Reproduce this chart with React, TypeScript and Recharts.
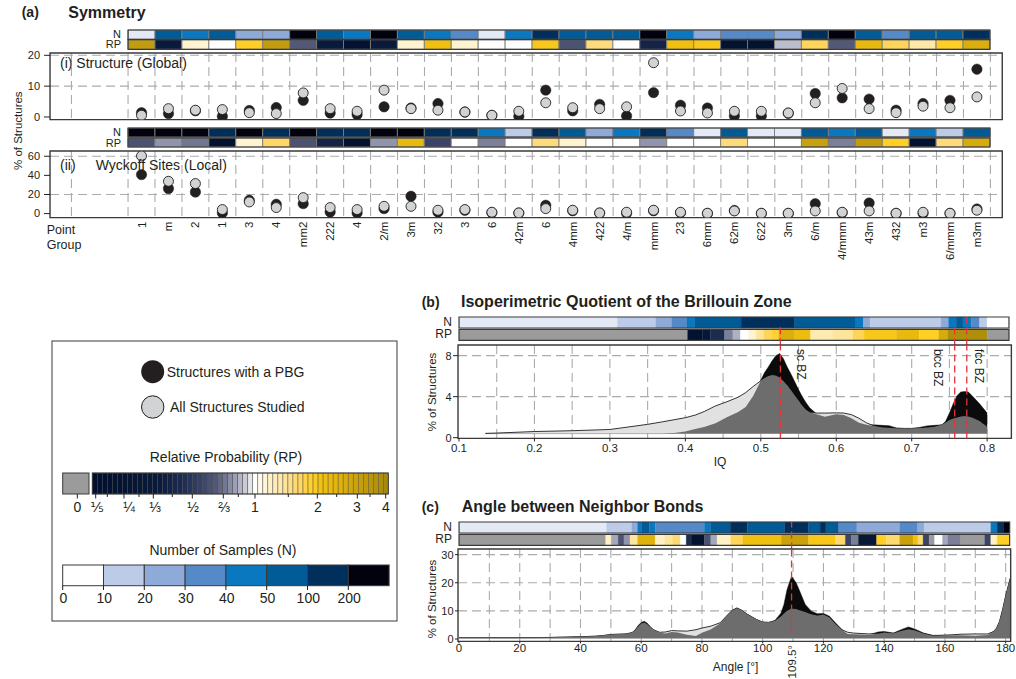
import React from "react";
import {
  ComposedChart,
  ScatterChart,
  Scatter,
  Area,
  XAxis,
  YAxis,
  ReferenceArea,
  ReferenceLine,
  CartesianGrid,
} from "recharts";

const FONT = "'Liberation Sans', Arial, Helvetica, 'DejaVu Sans', sans-serif";
const INK = "#231f20";
const GRID = "#a9abae";
const FRAME = "#3a3a3a";
const RED = "#e5333a";

// ---------- (a) Symmetry ----------
const pointGroups = [
  "1", "m", "2", "1", "3", "4", "mm2", "222", "4", "2/m", "3m", "32", "3", "6", "42m", "6",
  "4mm", "422", "4/m", "mmm", "23", "6mm", "62m", "622", "3m", "6/m", "4/mmm", "43m", "432", "m3", "6/mmm", "m3m",
];
// % of structures, global symmetry
const globalPbg = [1.4, 1.1, 2.0, 0.2, 2.1, 3.05, 5.4, 1.3, 0.8, 3.3, 2.9, 4.35, 1.6, 0.5, 0.2, 8.7, 2.0, 4.1, 0.35, 7.9, 3.8, 2.9, 0.35, 0.35, 1.2, 7.6, 6.2, 5.8, 2.2, 4.35, 5.4, 15.5];
const globalAll = [0.55, 2.7, 2.2, 2.4, 1.4, 1.1, 7.8, 2.7, 1.85, 8.7, 2.7, 2.2, 1.6, 0.55, 1.85, 4.6, 3.0, 2.7, 3.3, 17.6, 1.95, 1.3, 1.85, 1.85, 1.3, 4.6, 9.25, 2.7, 1.4, 3.5, 3.0, 6.5];
const globalN = [5, 70, 45, 70, 25, 25, 250, 70, 45, 250, 70, 45, 35, 5, 45, 150, 70, 70, 70, 250, 45, 25, 35, 35, 25, 150, 250, 70, 35, 70, 70, 150];
const globalRP = [3.2, 0.35, 1.15, 1.0, 1.9, 3.2, 0.62, 0.35, 0.22, 0.35, 1.15, 2.1, 1.15, 1.0, 1.0, 2.0, 0.6, 1.55, 1.0, 0.4, 2.1, 2.0, 0.22, 0.22, 0.85, 1.7, 0.62, 2.3, 1.7, 1.35, 1.9, 2.6];
// % of structures, Wyckoff site symmetry
const localPbg = [40.8, 26.2, 22.6, 0.7, 13.9, 9.7, 10.4, 1.7, 0.7, 5.2, 18.1, 1.5, 3.5, 1.0, 0.5, 8.7, 3.0, 0.5, 0.3, 3.0, 1.0, 0.2, 3.2, 0.2, 0.2, 10.4, 1.0, 11.1, 0.2, 0.3, 0.2, 4.8];
const localAll = [60.3, 33.8, 31.4, 4.2, 12.2, 6.3, 16.7, 6.3, 4.2, 7.6, 7.6, 3.5, 4.2, 1.4, 0.7, 5.2, 3.5, 0.7, 1.4, 3.5, 1.4, 0.3, 2.8, 0.3, 0.3, 2.8, 1.4, 2.8, 0.3, 1.4, 0.3, 3.5];
const localN = [250, 250, 250, 150, 250, 150, 250, 150, 150, 250, 250, 150, 150, 45, 15, 150, 70, 25, 45, 150, 35, 5, 70, 5, 5, 70, 45, 70, 5, 45, 15, 70];
const localRP = [0.6, 0.75, 0.68, 0.22, 1.15, 1.65, 0.6, 0.4, 0.22, 0.75, 2.3, 0.55, 1.0, 0.7, 1.0, 1.55, 1.15, 1.0, 1.0, 0.75, 1.0, 1.0, 1.55, 1.0, 1.0, 3.0, 0.7, 3.2, 1.9, 0.22, 1.55, 2.7];

// ---------- (b) Isoperimetric quotient ----------
const iqValues = [0.135, 0.15, 0.2, 0.25, 0.3, 0.32, 0.35, 0.37, 0.385, 0.4, 0.413, 0.425, 0.44, 0.455, 0.47, 0.48, 0.49, 0.5, 0.505, 0.51, 0.515, 0.52, 0.525, 0.53, 0.535, 0.54, 0.545, 0.55, 0.555, 0.56, 0.565, 0.575, 0.585, 0.6, 0.61, 0.62, 0.63, 0.64, 0.65, 0.66, 0.67, 0.68, 0.69, 0.7, 0.71, 0.72, 0.73, 0.74, 0.745, 0.75, 0.755, 0.76, 0.765, 0.77, 0.775, 0.78, 0.79, 0.8];
const iqAll = [0.42, 0.45, 0.6, 0.68, 0.8, 1.0, 1.3, 1.55, 1.75, 1.95, 2.2, 2.55, 3.1, 3.5, 3.95, 4.4, 5.0, 5.55, 5.8, 6.0, 6.1, 6.05, 5.85, 5.5, 5.1, 4.6, 4.1, 3.6, 3.1, 2.7, 2.45, 2.4, 2.4, 2.42, 2.4, 2.25, 1.9, 1.45, 1.15, 1.0, 0.95, 0.9, 0.9, 0.9, 0.92, 0.98, 1.05, 1.25, 1.45, 1.7, 1.85, 1.95, 2.05, 2.1, 2.05, 1.95, 1.6, 1.05];
const iqPbg = [0.4, 0.4, 0.4, 0.4, 0.4, 0.4, 0.4, 0.4, 0.45, 0.6, 0.85, 1.05, 1.4, 2.0, 2.5, 3.0, 4.1, 5.6, 6.35, 6.9, 7.5, 8.0, 8.2, 7.7, 6.9, 6.2, 5.45, 4.7, 4.0, 3.4, 2.9, 2.25, 2.05, 2.28, 2.2, 1.9, 1.45, 1.25, 1.25, 1.2, 1.17, 0.95, 0.9, 0.9, 1.0, 1.15, 1.2, 1.25, 1.6, 2.4, 3.3, 4.1, 4.45, 4.5, 4.45, 4.1, 3.3, 2.4];
const iqNEdges = [0.1, 0.31, 0.361, 0.382, 0.402, 0.4126, 0.474, 0.545, 0.626, 0.636, 0.645, 0.739, 0.749, 0.759, 0.768, 0.779, 0.79, 0.8, 0.829];
const iqN = [5, 15, 25, 35, 45, 70, 150, 70, 45, 25, 15, 25, 45, 70, 45, 35, 15, 0];
const iqRPEdges = [0.1, 0.403, 0.423, 0.433, 0.452, 0.463, 0.473, 0.484, 0.494, 0.504, 0.514, 0.524, 0.545, 0.566, 0.596, 0.622, 0.637, 0.68, 0.71, 0.736, 0.748, 0.8, 0.829];
const iqRP = [0, 0.22, 0.3, 0.45, 0.7, 0.82, 1.0, 1.15, 1.4, 1.7, 1.85, 2.6, 2.2, 1.3, 1.4, 1.7, 2.0, 2.3, 1.9, 2.7, 3.8, 0];
const bzMarks = [
  { name: "sc BZ", iq: 0.526, stripTop: 19 },
  { name: "bcc BZ", iq: 0.757, stripTop: 20 },
  { name: "fcc BZ", iq: 0.773, stripTop: 28.3 },
];

// ---------- (c) Angle between neighbor bonds ----------
const angles = [0, 10, 20, 30, 40, 45, 48, 50, 55, 57, 58, 59, 60, 61, 62, 63, 64, 66, 68, 70, 72, 75, 78, 80, 83, 86, 88, 90, 91.5, 93, 95, 98, 100, 102, 104, 106, 107, 108, 109.5, 111, 112, 114, 116, 118, 120, 122, 124, 126, 128, 130, 135, 138, 140, 143, 146, 148, 150, 153, 156, 160, 165, 170, 174, 176, 177, 178, 179, 180, 181, 181.6];
const angleAll = [0.5, 0.5, 0.5, 0.55, 0.8, 1.0, 1.3, 1.6, 1.8, 2.3, 3.2, 4.4, 5.4, 5.8, 5.2, 4.2, 3.3, 2.4, 2.5, 3.0, 2.9, 2.8, 3.3, 3.9, 4.6, 5.8, 8.0, 10.1, 10.9, 10.2, 8.7, 6.9, 6.0, 5.9, 6.4, 7.9, 9.0, 10.0, 10.8, 10.6, 10.2, 9.5, 8.7, 8.3, 8.6, 7.6, 5.2, 3.3, 2.4, 2.1, 1.8, 1.9, 2.2, 2.0, 2.9, 3.4, 3.0, 1.9, 1.2, 1.3, 1.7, 1.8, 1.8, 2.6, 3.8, 6.2, 10.4, 15.2, 19.4, 21.8];
const anglePbg = [0.5, 0.5, 0.5, 0.55, 0.8, 1.0, 1.3, 1.6, 1.8, 2.2, 3.3, 4.8, 5.9, 6.3, 5.6, 4.4, 3.3, 2.2, 2.0, 2.5, 2.3, 1.5, 1.1, 2.2, 3.5, 5.6, 8.1, 10.3, 11.1, 10.3, 8.8, 6.9, 6.0, 5.9, 6.6, 9.2, 12.3, 17.5, 22.3, 20.0, 17.5, 12.3, 9.9, 9.0, 9.1, 8.1, 5.7, 3.5, 1.8, 1.7, 1.5, 2.5, 2.7, 2.1, 3.5, 4.3, 3.6, 2.1, 1.3, 1.4, 1.3, 1.2, 1.4, 2.7, 3.9, 6.3, 10.5, 15.3, 19.5, 21.9];
const angleNEdges = [0, 48.6, 56.9, 58.8, 60.1, 62.7, 64.6, 80.8, 82.9, 89.3, 94.9, 107.2, 115.1, 118.9, 120.8, 125, 131, 145.2, 151, 153.1, 175.1, 177.2, 179.4, 181.3];
const angleN = [5, 15, 25, 45, 70, 45, 35, 45, 70, 150, 70, 150, 70, 150, 70, 35, 25, 35, 25, 15, 45, 150, 250];
const angleRPEdges = [0, 48.3, 50.1, 52.4, 54.3, 56.3, 58.8, 64.6, 67.8, 70.3, 72.9, 74.8, 76.7, 80.8, 82.9, 85, 89.5, 93.4, 106.1, 115.1, 124, 127.2, 129.2, 131.5, 137.5, 140.7, 145.1, 149.5, 151.1, 152.8, 154.8, 156.6, 159.2, 161, 165.2, 173.1, 175.1, 177.2, 181.3];
const angleRP = [0, 1.2, 0.8, 0.6, 0.75, 1.4, 2.5, 1.2, 1.4, 1.6, 1.0, 0.45, 0.22, 0.6, 0.8, 1.2, 1.7, 2.1, 3.0, 2.0, 1.6, 0.55, 0.7, 0.3, 1.9, 1.6, 3.0, 2.1, 1.6, 0.55, 0, 1.0, 0.8, 0.7, 0, 0.55, 1.2, 1.9];
const tetraAngle = 109.5;

// ---------- colour scales ----------
const nLegend = [
  { label: "0", color: "#ffffff" },
  { label: "10", color: "#bccbe8" },
  { label: "20", color: "#8eaad8" },
  { label: "30", color: "#5589c8" },
  { label: "40", color: "#0a78c0" },
  { label: "50", color: "#005b97" },
  { label: "100", color: "#002f5b" },
  { label: "200", color: "#02020f" },
];
const nBreaks = [10, 20, 30, 40, 50, 100, 200];

function nColor(n: number) {
  if (n <= 0) return "#ffffff";
  if (n < 10) return "#e3e9f5";
  const k = nBreaks.filter((b) => n >= b).length;
  return nLegend[k].color;
}

const rpStops: [number, string][] = [
  [0.2, "#00102e"], [0.35, "#0a1a3a"], [0.45, "#1c2b50"], [0.55, "#3a4468"], [0.62, "#535876"],
  [0.7, "#7b7f9a"], [0.8, "#a5a8bc"], [0.9, "#d0d1dc"], [1, "#ffffff"], [1.15, "#fff3d0"],
  [1.35, "#fee8a8"], [1.55, "#fedb7a"], [1.7, "#fed55a"], [1.9, "#ffcf25"], [2.1, "#f0c010"],
  [2.5, "#e0b20c"], [3, "#c9a10c"], [4, "#a88a0a"],
];
const hexRgb = (c: string) => [1, 3, 5].map((i) => parseInt(c.slice(i, i + 2), 16));

function rpColor(v: number) {
  if (v <= 0) return "#9b9b9b";
  const lv = Math.log(Math.min(Math.max(v, 0.2), 4));
  for (let i = 0; i < rpStops.length - 1; i++) {
    const [a, ca] = rpStops[i];
    const [b, cb] = rpStops[i + 1];
    if (lv <= Math.log(b) + 1e-9) {
      const t = (lv - Math.log(a)) / (Math.log(b) - Math.log(a));
      const A = hexRgb(ca);
      const B = hexRgb(cb);
      return `rgb(${A.map((x, k) => Math.round(x + (B[k] - x) * t)).join(",")})`;
    }
  }
  return rpStops[rpStops.length - 1][1];
}

const segments = (edges: number[], vals: number[], color: (v: number) => string) =>
  vals.map((v, i) => ({ x1: edges[i], x2: edges[i + 1], fill: color(v) }));
const perCategory = (vals: number[], color: (v: number) => string) =>
  vals.map((v, i) => ({ x1: i - 0.5, x2: i + 0.5, fill: color(v) }));

const catDomain = [-3.395, 31.94];
const catTicks = pointGroups.map((_, i) => i);
const catEdges = [-2.6, ...pointGroups.map((_, i) => i - 0.5), pointGroups.length - 0.5];

// ---------- pieces ----------
function HeatStrip({ left, top, width, height, domain, rows, cellStroke, children }: any) {
  const pad = 2;
  return (
    <div style={{ position: "absolute", left: left - pad, top: top - pad }}>
      <ComposedChart
        width={width + 2 * pad}
        height={height + 2 * pad}
        margin={{ top: pad, right: pad, bottom: pad, left: pad }}
        data={[{ x: domain[0] }, { x: domain[1] }]}
      >
        <XAxis type="number" dataKey="x" domain={domain} hide allowDataOverflow />
        <YAxis type="number" domain={[0, height]} hide allowDataOverflow />
        {rows.map((r: any, ri: number) =>
          r.cells.map((c: any, ci: number) => (
            <ReferenceArea
              key={`c${ri}-${ci}`}
              x1={c.x1}
              x2={c.x2}
              y1={r.y1}
              y2={r.y2}
              fill={c.fill}
              fillOpacity={1}
              stroke={cellStroke || c.fill}
              strokeWidth={cellStroke ? 0.9 : 0.3}
            />
          ))
        )}
        {rows.map((r: any, ri: number) => (
          <ReferenceArea key={`f${ri}`} x1={domain[0]} x2={domain[1]} y1={r.y1} y2={r.y2} fill="none" stroke={FRAME} strokeWidth={1.2} />
        ))}
        {children}
      </ComposedChart>
    </div>
  );
}

const dotPbg = (p: any) => <circle cx={p.cx} cy={p.cy} r={5.2} fill="#231f20" stroke="#231f20" strokeWidth={0.5} />;
const dotAll = (p: any) => <circle cx={p.cx} cy={p.cy} r={5} fill="#d1d3d4" stroke="#231f20" strokeWidth={0.9} />;

const GroupTick = (p: any) => (
  <text
    x={p.x}
    y={p.y}
    transform={`rotate(-90 ${p.x} ${p.y})`}
    textAnchor="end"
    dominantBaseline="central"
    fontSize={11.5}
    fill={INK}
    fontFamily={FONT}
  >
    {pointGroups[p.payload.value]}
  </text>
);

function SymmetryPanel({ top, yDomain, yTicks, gridY, pbg, all, withGroups }: any) {
  const plotH = 66.6;
  const mTop = 6;
  const mBottom = withGroups ? 4 : 6;
  const axisH = withGroups ? 48 : 0;
  return (
    <div style={{ position: "absolute", left: 10, top: top - mTop }}>
      <ScatterChart width={996.3} height={mTop + plotH + axisH + mBottom} margin={{ top: mTop, right: 4, bottom: mBottom, left: 0 }}>
        <CartesianGrid horizontalValues={gridY} verticalValues={catEdges} stroke={GRID} strokeWidth={1.1} strokeDasharray="9 5" />
        <XAxis
          type="number"
          dataKey="x"
          domain={catDomain}
          ticks={catTicks}
          interval={0}
          hide={!withGroups}
          height={axisH}
          axisLine={false}
          tickLine={false}
          tickSize={4}
          tickMargin={0}
          tick={GroupTick}
          allowDataOverflow
        />
        <YAxis
          type="number"
          dataKey="y"
          domain={yDomain}
          ticks={yTicks}
          width={40}
          axisLine={false}
          tickSize={6}
          tickMargin={4}
          tickLine={{ stroke: INK }}
          tick={{ fontSize: 11, fill: INK, fontFamily: FONT }}
          allowDataOverflow
        />
        <Scatter data={pbg.map((y: number, i: number) => ({ x: i, y }))} shape={dotPbg} isAnimationActive={false} />
        <Scatter data={all.map((y: number, i: number) => ({ x: i, y }))} shape={dotAll} isAnimationActive={false} />
        <ReferenceArea x1={catDomain[0]} x2={catDomain[1]} y1={yDomain[0]} y2={yDomain[1]} fill="none" stroke={FRAME} strokeWidth={1.4} />
      </ScatterChart>
    </div>
  );
}

function DistPanel({ plot, xKey, data, xDomain, yDomain, xTicks, yTicks, gridX, gridY, fmt, base, marks, yTickSize, xTickSize, xTickMargin }: any) {
  const yw = 30;
  const mTop = 6;
  const mRight = 4;
  const axisH = 20;
  const mBottom = 4;
  return (
    <div style={{ position: "absolute", left: plot.left - yw, top: plot.top - mTop }}>
      <ComposedChart
        width={yw + plot.width + mRight}
        height={mTop + plot.height + axisH + mBottom}
        data={data}
        margin={{ top: mTop, right: mRight, bottom: mBottom, left: 0 }}
      >
        <CartesianGrid horizontalValues={gridY} verticalValues={gridX} stroke={GRID} strokeWidth={1.1} strokeDasharray="9 5" />
        <XAxis
          type="number"
          dataKey={xKey}
          domain={xDomain}
          ticks={xTicks}
          interval={0}
          height={axisH}
          axisLine={false}
          tickLine={{ stroke: INK }}
          tickSize={xTickSize}
          tickMargin={xTickMargin}
          tickFormatter={fmt}
          tick={{ fontSize: 11.5, fill: INK, fontFamily: FONT }}
          allowDataOverflow
        />
        <YAxis
          type="number"
          domain={yDomain}
          ticks={yTicks}
          width={yw}
          axisLine={false}
          tickSize={yTickSize}
          tickMargin={1.5}
          tickLine={{ stroke: INK }}
          tick={{ fontSize: 11, fill: INK, fontFamily: FONT }}
          allowDataOverflow
        />
        <Area type="linear" dataKey="pbg" baseValue={base} fill="#0b0b0b" fillOpacity={1} stroke="#0b0b0b" strokeWidth={0.5} isAnimationActive={false} />
        <Area type="linear" dataKey="all" baseValue={base} fill="#e1e1e1" fillOpacity={1} stroke="#1e1e1e" strokeWidth={0.9} isAnimationActive={false} />
        <Area type="linear" dataKey="low" baseValue={base} fill="#6d6d6d" fillOpacity={1} stroke="none" isAnimationActive={false} />
        {marks}
        <ReferenceArea x1={xDomain[0]} x2={xDomain[1]} y1={yDomain[0]} y2={yDomain[1]} fill="none" stroke={FRAME} strokeWidth={1.4} />
      </ComposedChart>
    </div>
  );
}

const T = ({ x, y, children, size = 12, anchor = "start", weight = "normal", rotate = 0 }: any) => (
  <text
    x={x}
    y={y}
    fontSize={size}
    textAnchor={anchor}
    fontWeight={weight}
    dominantBaseline="central"
    transform={rotate ? `rotate(${rotate} ${x} ${y})` : undefined}
    fill={INK}
    fontFamily={FONT}
  >
    {children}
  </text>
);

// legend colour bar: position -> relative probability
const rpBarAnchors: [number, number][] = [
  [92.3, 0.19], [95.7, 0.2], [124, 0.25], [153.3, 1 / 3], [192.3, 0.5], [223.3, 2 / 3],
  [255, 1], [317.3, 2], [357.3, 3], [388.3, 4.1],
];
function rpAt(x: number) {
  for (let i = 0; i < rpBarAnchors.length - 1; i++) {
    const [xa, va] = rpBarAnchors[i];
    const [xb, vb] = rpBarAnchors[i + 1];
    if (x <= xb) {
      const t = (x - xa) / (xb - xa);
      return Math.exp(Math.log(va) + (Math.log(vb) - Math.log(va)) * t);
    }
  }
  return 4;
}
const rpMajor = [95.7, 124, 153.3, 192.3, 223.3, 255, 317.3, 357.3, 385.7];
const rpMinor = [107.3, 139, 172.3, 238.3, 288.3, 336.7, 370];
const rpLabels: [string, number][] = [["⅕", 97], ["¼", 129], ["⅓", 155], ["½", 193], ["⅔", 224], ["1", 255], ["2", 318], ["3", 357], ["4", 386]];

function Legend() {
  const cells = 59;
  const w = (388.3 - 92.3) / cells;
  return (
    <g>
      <rect x={52} y={341} width={345} height={280} fill="none" stroke={FRAME} strokeWidth={1} />
      <circle cx={152.7} cy={371.7} r={11.5} fill="#231f20" />
      <T x={166.7} y={371.7} size={14}>Structures with a PBG</T>
      <circle cx={152.7} cy={407} r={11.2} fill="#d1d3d4" stroke="#231f20" strokeWidth={1} />
      <T x={170} y={407} size={14}>All Structures Studied</T>
      <T x={226} y={456.7} size={14} anchor="middle">Relative Probability (RP)</T>
      <rect x={62.7} y={473} width={26.3} height={21} fill="#9b9b9b" stroke={FRAME} strokeWidth={1} />
      <line x1={77.3} x2={77.3} y1={494} y2={498.5} stroke={INK} />
      <T x={77.3} y={506.7} size={14} anchor="middle">0</T>
      {Array.from({ length: cells }, (_, k) => (
        <rect key={k} x={92.3 + k * w} y={473} width={w} height={21} fill={rpColor(rpAt(92.3 + (k + 0.5) * w))} stroke="#3c3c3c" strokeWidth={0.4} />
      ))}
      <rect x={92.3} y={473} width={296} height={21} fill="none" stroke={FRAME} strokeWidth={1} />
      {rpMajor.map((x) => (
        <line key={`M${x}`} x1={x} x2={x} y1={494} y2={498.5} stroke={INK} />
      ))}
      {rpMinor.map((x) => (
        <line key={`m${x}`} x1={x} x2={x} y1={494} y2={497} stroke={INK} />
      ))}
      {rpLabels.map(([s, x]) => (
        <T key={s} x={x} y={506.7} size={14} anchor="middle">{s}</T>
      ))}
      <T x={223} y={550} size={14} anchor="middle">Number of Samples (N)</T>
      {nLegend.map((c, k) => (
        <rect key={c.label} x={62.7 + k * 40.8} y={565} width={40.8} height={20.7} fill={c.color} stroke={FRAME} strokeWidth={1} />
      ))}
      {nLegend.map((c, k) => (
        <g key={`t${c.label}`}>
          <line x1={62.7 + k * 40.8} x2={62.7 + k * 40.8} y1={585.7} y2={590} stroke={INK} />
          <T x={63.5 + k * 40.8} y={598} size={14} anchor="middle">{c.label}</T>
        </g>
      ))}
    </g>
  );
}

const iqData = iqValues.map((iq, i) => ({ iq, all: iqAll[i], pbg: iqPbg[i], low: Math.min(iqAll[i], iqPbg[i]) }));
const angleData = angles.map((a, i) => ({ a, all: angleAll[i], pbg: anglePbg[i], low: Math.min(angleAll[i], anglePbg[i]) }));

export default function App() {
  const bDomain = [0.0987, 0.8321];
  const cDomain = [-0.33, 181.65];
  return (
    <div style={{ position: "absolute", left: 0, top: 0, width: 1016, height: 679, background: "#fff", overflow: "hidden" }}>
      {/* (a) strips */}
      <HeatStrip
        left={128}
        top={30}
        width={862}
        height={19.3}
        domain={[-0.5, 31.5]}
        cellStroke="#7c7c7c"
        rows={[
          { y1: 10, y2: 19.3, cells: perCategory(globalN, nColor) },
          { y1: 0, y2: 9.6, cells: perCategory(globalRP, rpColor) },
        ]}
      />
      <SymmetryPanel top={52.7} yDomain={[-0.85, 20.75]} yTicks={[0, 10, 20]} gridY={[0, 5, 10, 15, 20]} pbg={globalPbg} all={globalAll} />
      <HeatStrip
        left={128}
        top={128.3}
        width={862}
        height={19}
        domain={[-0.5, 31.5]}
        cellStroke="#7c7c7c"
        rows={[
          { y1: 10, y2: 19, cells: perCategory(localN, nColor) },
          { y1: 0, y2: 9, cells: perCategory(localRP, rpColor) },
        ]}
      />
      <SymmetryPanel top={150.7} yDomain={[-4.2, 65.5]} yTicks={[0, 20, 40, 60]} gridY={[0, 20, 40, 60]} pbg={localPbg} all={localAll} withGroups />

      {/* (b) */}
      <HeatStrip
        left={459.3}
        top={316.7}
        width={550}
        height={28.3}
        domain={[0.1, 0.829]}
        rows={[
          { y1: 17.3, y2: 28.3, cells: segments(iqNEdges, iqN, nColor) },
          { y1: 5, y2: 16, cells: segments(iqRPEdges, iqRP, rpColor) },
        ]}
      >
        {bzMarks.map((m) => (
          <ReferenceLine key={m.name} segment={[{ x: m.iq, y: 0 }, { x: m.iq, y: m.stripTop }]} stroke={RED} strokeWidth={1.3} strokeDasharray="7 4" />
        ))}
      </HeatStrip>
      <DistPanel
        plot={{ left: 458.3, top: 345, width: 553.4, height: 93.4 }}
        xKey="iq"
        data={iqData}
        xDomain={bDomain}
        yDomain={[-0.07, 9.04]}
        xTicks={[0.1, 0.2, 0.3, 0.4, 0.5, 0.6, 0.7, 0.8]}
        yTicks={[0, 4, 8]}
        gridX={[0.15, 0.2, 0.25, 0.3, 0.35, 0.4, 0.45, 0.5, 0.55, 0.6, 0.65, 0.7, 0.75, 0.8]}
        gridY={[2, 4, 6, 8]}
        fmt={(v: number) => v.toFixed(1)}
        base={0.4}
        yTickSize={5}
        xTickSize={3}
        xTickMargin={2}
        marks={bzMarks.map((m) => (
          <ReferenceLine key={m.name} x={m.iq} stroke={RED} strokeWidth={1.3} strokeDasharray="7 4" />
        ))}
      />

      {/* (c) */}
      <HeatStrip
        left={459.3}
        top={521.7}
        width={550.7}
        height={27.6}
        domain={[0, 181.3]}
        rows={[
          { y1: 16.6, y2: 27.6, cells: segments(angleNEdges, angleN, nColor) },
          { y1: 4.3, y2: 15.3, cells: segments(angleRPEdges, angleRP, rpColor) },
        ]}
      >
        <ReferenceLine segment={[{ x: tetraAngle, y: 0 }, { x: tetraAngle, y: 27.6 }]} stroke={RED} strokeWidth={1.3} strokeDasharray="7 4" />
      </HeatStrip>
      <DistPanel
        plot={{ left: 458.3, top: 549.3, width: 552.7, height: 92.4 }}
        xKey="a"
        data={angleData}
        xDomain={cDomain}
        yDomain={[-0.85, 32.0]}
        xTicks={[0, 20, 40, 60, 80, 100, 120, 140, 160, 180]}
        yTicks={[0, 10, 20, 30]}
        gridX={[10, 20, 30, 40, 50, 60, 70, 80, 90, 100, 110, 120, 130, 140, 150, 160, 170, 180]}
        gridY={[5, 10, 15, 20, 25, 30]}
        fmt={(v: number) => String(v)}
        base={0.3}
        yTickSize={3}
        xTickSize={2}
        xTickMargin={0.5}
        marks={[
          <ReferenceLine key="tetra" segment={[{ x: tetraAngle, y: 2 }, { x: tetraAngle, y: 32 }]} stroke={RED} strokeWidth={1.3} strokeDasharray="7 4" />,
        ]}
      />

      <svg width={1016} height={679} style={{ position: "absolute", left: 0, top: 0, pointerEvents: "none" }}>
        {/* (a) labels */}
        <T x={21.7} y={12.3} size={14} weight="bold">(a)</T>
        <T x={68.3} y={12.3} size={16} weight="bold">Symmetry</T>
        <T x={121} y={33.8} size={11} anchor="end">N</T>
        <T x={121} y={43.8} size={11} anchor="end">RP</T>
        <T x={121} y={132} size={11} anchor="end">N</T>
        <T x={121} y={142.5} size={11} anchor="end">RP</T>
        <T x={60} y={63.3} size={14}>(i) Structure (Global)</T>
        <T x={60} y={165} size={14}>(ii)</T>
        <T x={95.7} y={165} size={14}>Wyckoff Sites (Local)</T>
        <T x={18} y={130.7} size={11.5} anchor="middle" rotate={-90}>% of  Structures</T>
        <T x={46.7} y={230} size={12.5}>Point</T>
        <T x={46.7} y={245} size={12.5}>Group</T>

        {/* (b) labels */}
        <T x={421.7} y={301.7} size={14} weight="bold">(b)</T>
        <T x={461} y={301.7} size={16} weight="bold">Isoperimetric Quotient of the Brillouin Zone</T>
        <T x={452} y={321.5} size={12} anchor="end">N</T>
        <T x={452} y={334} size={12} anchor="end">RP</T>
        <T x={432} y={392} size={11.5} anchor="middle" rotate={-90}>% of  Structures</T>
        <T x={720} y={461.7} size={12} anchor="middle">IQ</T>
        <T x={801} y={349} size={12} rotate={90}>sc BZ</T>
        <T x={938.3} y={349} size={12} rotate={90}>bcc BZ</T>
        <T x={979.3} y={349} size={12} rotate={90}>fcc BZ</T>

        {/* (c) labels */}
        <T x={421.7} y={506.7} size={14} weight="bold">(c)</T>
        <T x={461.7} y={506.7} size={16} weight="bold">Angle between Neighbor Bonds</T>
        <T x={452} y={526.5} size={12} anchor="end">N</T>
        <T x={452} y={539} size={12} anchor="end">RP</T>
        <T x={432} y={599} size={11.5} anchor="middle" rotate={-90}>% of  Structures</T>
        <T x={735.6} y={666.7} size={12} anchor="middle">Angle [°]</T>
        <T x={792} y={661.7} size={11.5} anchor="middle" rotate={-90}>109.5°</T>

        <Legend />
      </svg>
    </div>
  );
}
